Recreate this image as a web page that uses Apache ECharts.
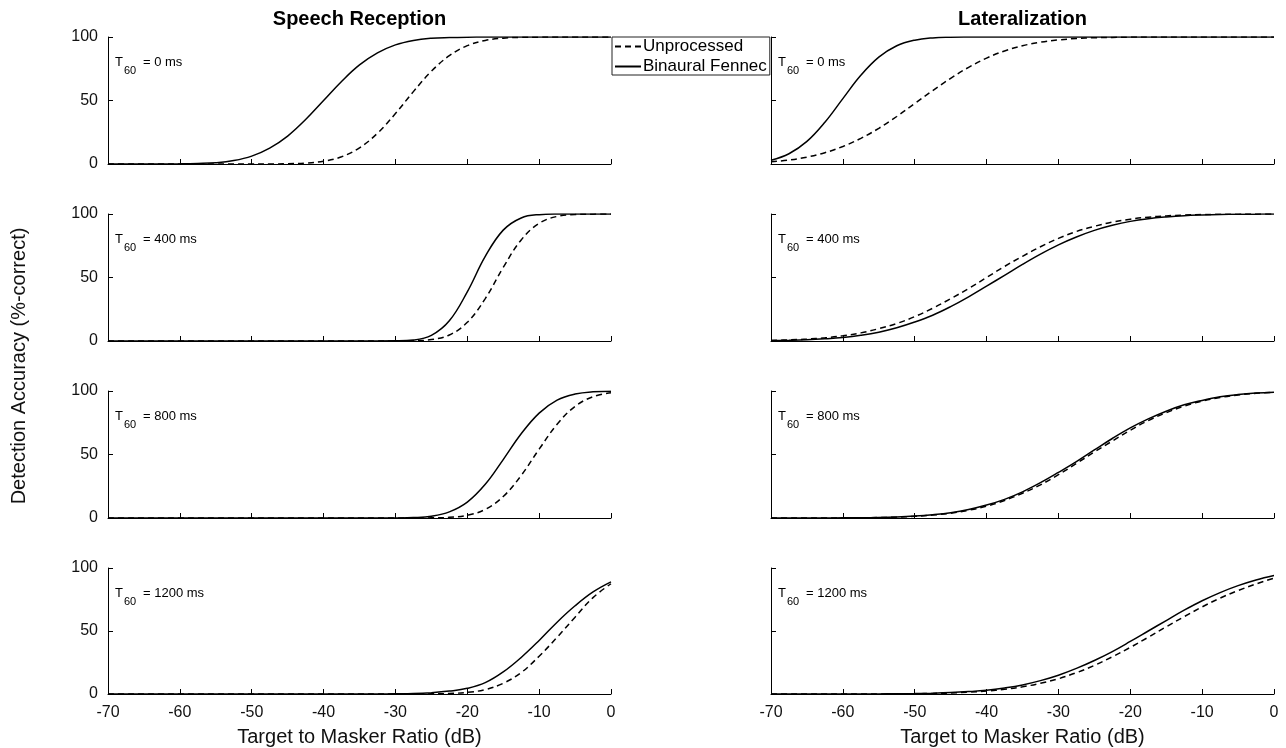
<!DOCTYPE html>
<html>
<head>
<meta charset="utf-8">
<script src="https://cdn.jsdelivr.net/npm/echarts@6/dist/echarts.min.js"></script>
<style>
  html, body { margin: 0; padding: 0; background: #fff; }
  #chart { width: 1286px; height: 748px; }
</style>
</head>
<body>
<div id="chart"></div>
<script>
// target to masker ratio (dB), shared x values for every curve
const tmr = [-70, -67.5, -65, -62.5, -60, -57.5, -55, -52.5, -50, -47.5, -45, -42.5, -40, -37.5, -35,
  -32.5, -30, -27.5, -25, -22.5, -20, -17.5, -15, -12.5, -10, -7.5, -5, -2.5, 0];

const reverbTimes = ['0', '400', '800', '1200'];
const panelTitles = ['Speech Reception', 'Lateralization'];

// speech reception, % correct
const sr0Unp = [0, 0, 0, 0, 0, 0, 0, 0, 0, 0, 0.2, 0.7, 2.2, 5.7, 12.7, 24.2, 39.7, 57, 73, 85.3, 93.2, 97.3, 99.1, 99.7, 99.9, 100, 100, 100, 100];
const sr0Fen = [0, 0, 0, 0, 0.1, 0.4, 1.0, 2.7, 6.2, 12.5, 22, 35, 50, 65, 78, 87.5, 93.8, 97.3, 99, 99.6, 99.9, 100, 100, 100, 100, 100, 100, 100, 100];
const sr400Unp = [0, 0, 0, 0, 0, 0, 0, 0, 0, 0, 0, 0, 0, 0, 0, 0, 0, 0.2, 1.1, 4.7, 14.7, 33.4, 57.9, 79.6, 92.6, 98.1, 99.6, 99.9, 100];
const sr400Fen = [0, 0, 0, 0, 0, 0, 0, 0, 0, 0, 0, 0, 0, 0, 0, 0, 0.1, 0.75, 4.4, 15.9, 38.7, 66.6, 87.3, 96.9, 99.5, 99.95, 100, 100, 100];
const sr800Unp = [0, 0, 0, 0, 0, 0, 0, 0, 0, 0, 0, 0, 0, 0, 0, 0, 0, 0, 0.1, 0.54, 2.2, 6.8, 16.9, 33.5, 54.2, 73.8, 87.9, 95.5, 98.7];
const sr800Fen = [0, 0, 0, 0, 0, 0, 0, 0, 0, 0, 0, 0, 0, 0, 0, 0, 0.06, 0.34, 1.4, 4.8, 12.5, 26.5, 46, 66.3, 82.6, 92.8, 97.6, 99.4, 99.8];
const sr1200Unp = [0, 0, 0, 0, 0, 0, 0, 0, 0, 0, 0, 0, 0, 0, 0, 0, 0, 0, 0.1, 0.4, 1.3, 3.5, 8.5, 17, 30, 45, 61, 76.5, 87.5];
const sr1200Fen = [0, 0, 0, 0, 0, 0, 0, 0, 0, 0, 0, 0, 0, 0, 0, 0, 0.1, 0.3, 1.0, 2.3, 4.5, 9, 17.5, 29, 42.5, 57, 70, 81, 89];

// lateralization, % correct
const lat0Unp = [1.7, 3.1, 5.4, 8.9, 13.8, 20.2, 28.1, 37.4, 47.6, 57.8, 67.5, 76.1, 83.4, 89, 93.1, 95.9, 97.7, 98.8, 99.4, 99.7, 99.9, 100, 100, 100, 100, 100, 100, 100, 100];
const lat0Fen = [3.0, 8.1, 17.8, 32.9, 51.5, 69.8, 84.1, 93.1, 97.5, 99.3, 99.8, 99.95, 100, 100, 100, 100, 100, 100, 100, 100, 100, 100, 100, 100, 100, 100, 100, 100, 100];
const lat400Unp = [0.45, 0.84, 1.5, 2.5, 4.1, 6.4, 9.7, 13.8, 19.2, 25.8, 33.3, 41.3, 50, 58.7, 66.7, 74.2, 80.8, 86.2, 90.3, 93.6, 95.9, 97.5, 98.5, 99.2, 99.55, 99.8, 99.9, 99.95, 100];
const lat400Fen = [0.3, 0.5, 0.9, 1.7, 2.8, 4.5, 6.9, 10.4, 14.9, 20.3, 27.1, 34.8, 43.2, 51.7, 60.3, 68.4, 75.7, 81.9, 87.1, 91.1, 94.2, 96.3, 97.7, 98.7, 99.25, 99.6, 99.8, 99.9, 99.95];
const lat800Unp = [0, 0, 0, 0.04, 0.08, 0.18, 0.37, 0.7, 1.3, 2.3, 3.8, 6.1, 9.3, 13.8, 19.5, 26.1, 34.1, 42.9, 52, 60.6, 69.1, 76.7, 82.9, 88.1, 92.1, 94.9, 96.9, 98.2, 99];
const lat800Fen = [0, 0, 0, 0.05, 0.1, 0.2, 0.4, 0.8, 1.5, 2.6, 4.2, 6.7, 10.2, 14.7, 20.6, 27.8, 35.9, 44.4, 53.6, 62.6, 70.9, 78, 84.1, 89.1, 92.6, 95.4, 97.2, 98.4, 99.1];
const lat1200Unp = [0, 0, 0, 0.01, 0.01, 0.03, 0.06, 0.12, 0.23, 0.43, 0.78, 1.4, 2.3, 3.7, 5.7, 8.5, 12.1, 16.9, 22.7, 29.5, 37, 45, 53.3, 61.4, 69.1, 76.1, 82.1, 87.3, 92];
const lat1200Fen = [0, 0, 0, 0, 0.02, 0.04, 0.09, 0.18, 0.34, 0.62, 1.1, 1.9, 3.0, 4.8, 7.2, 10.6, 14.9, 20.3, 26.6, 33.7, 41.7, 50, 58.3, 66.5, 74, 80.5, 86, 90.5, 94];

const unprocessed = [[sr0Unp, sr400Unp, sr800Unp, sr1200Unp], [lat0Unp, lat400Unp, lat800Unp, lat1200Unp]];
const fennec = [[sr0Fen, sr400Fen, sr800Fen, sr1200Fen], [lat0Fen, lat400Fen, lat800Fen, lat1200Fen]];

const font = 'Liberation Sans, Arial, Helvetica, sans-serif';
const colLeft = [108, 771];
const rowTop = [37, 214, 391, 568];
const plotW = 503;
const plotH = 127;

const chart = echarts.init(document.getElementById('chart'));

const grid = [], xAxis = [], yAxis = [], series = [], graphic = [];

for (let c = 0; c < 2; c++) {
    for (let r = 0; r < 4; r++) {
        const idx = c * 4 + r;
        const bottomRow = r === 3;
        grid.push({ left: colLeft[c], top: rowTop[r], width: plotW, height: plotH });
        xAxis.push({
            type: 'value', gridIndex: idx, min: -70, max: 0, interval: 10,
            axisLine: { onZero: false, lineStyle: { color: '#000', width: 1 } },
            axisTick: { inside: true, length: 5, lineStyle: { color: '#000' } },
            axisLabel: { show: bottomRow, fontSize: 16, color: '#111', fontFamily: font, margin: 11 },
            splitLine: { show: false },
            name: bottomRow ? 'Target to Masker Ratio (dB)' : '',
            nameLocation: 'middle', nameGap: 33,
            nameTextStyle: { fontSize: 20, color: '#111', fontFamily: font }
        });
        yAxis.push({
            type: 'value', gridIndex: idx, min: 0, max: 100, interval: 50,
            axisLine: { show: true, onZero: false, lineStyle: { color: '#000', width: 1 } },
            axisTick: { show: true, inside: true, length: 5, lineStyle: { color: '#000' } },
            axisLabel: { show: c === 0, fontSize: 16, color: '#111', fontFamily: font, margin: 10 },
            splitLine: { show: false }
        });
        series.push({
            name: 'Unprocessed', type: 'line', xAxisIndex: idx, yAxisIndex: idx,
            data: tmr.map((x, i) => [x, unprocessed[c][r][i]]),
            showSymbol: false, symbol: 'none', smooth: 0.4,
            lineStyle: { color: '#000', width: 1.5, type: [6, 4] },
            itemStyle: { color: '#000' }
        });
        series.push({
            name: 'Binaural Fennec', type: 'line', xAxisIndex: idx, yAxisIndex: idx,
            data: tmr.map((x, i) => [x, fennec[c][r][i]]),
            showSymbol: false, symbol: 'none', smooth: 0.4,
            lineStyle: { color: '#000', width: 1.5, type: 'solid' },
            itemStyle: { color: '#000' }
        });
        // T60 label inside each panel
        graphic.push({
            type: 'group', left: colLeft[c] + 7, top: rowTop[r] + 19,
            children: [
                { type: 'text', x: 0, y: 0, style: { text: 'T', fontSize: 13, fontFamily: font, fill: '#000' } },
                { type: 'text', x: 9, y: 9, style: { text: '60', fontSize: 11, fontFamily: font, fill: '#000' } },
                { type: 'text', x: 28, y: 0, style: { text: '= ' + reverbTimes[r] + ' ms', fontSize: 13, fontFamily: font, fill: '#000' } }
            ]
        });
    }
    graphic.push({
        type: 'text', x: colLeft[c] + plotW / 2, y: 19,
        style: { text: panelTitles[c], fontSize: 20, fontWeight: 'bold', fontFamily: font, fill: '#000',
                 textAlign: 'center', textVerticalAlign: 'middle' }
    });
}

graphic.push({
    type: 'text', x: 19, y: 366, rotation: Math.PI / 2,
    style: { text: 'Detection Accuracy (%-correct)', fontSize: 20, fontFamily: font, fill: '#111',
             textAlign: 'center', textVerticalAlign: 'middle' }
});

chart.setOption({
    animation: false,
    backgroundColor: '#fff',
    grid: grid,
    xAxis: xAxis,
    yAxis: yAxis,
    series: series,
    graphic: graphic,
    legend: {
        data: ['Unprocessed', 'Binaural Fennec'],
        orient: 'vertical',
        left: 612, top: 37,
        backgroundColor: '#fff',
        borderColor: '#222', borderWidth: 1,
        padding: [1, 3, 0, 2],
        itemGap: 3,
        itemWidth: 26, itemHeight: 14,
        itemStyle: { opacity: 0 },
        textStyle: { fontSize: 17, fontFamily: font, color: '#000', padding: [0, 0, 0, -3] }
    }
});
</script>
</body>
</html>
